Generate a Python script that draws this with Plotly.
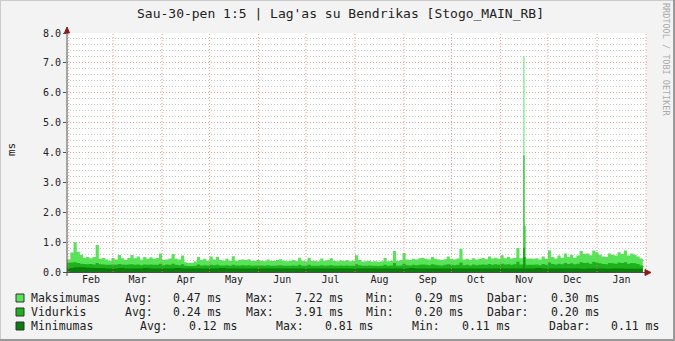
import pandas as pd
import plotly.graph_objects as go

# ---------------- data ----------------
title_text = "Sau-30-pen 1:5 | Lag'as su Bendrikas [Stogo_MAIN_RB]"
y_title = "ms"
watermark = "RRDTOOL / TOBI OETIKER"

start_date = "2019-01-31"
max_step_days = 2
mid_step_days = 2
min_step_days = 4

max_vals = [
    0.42, 0.65, 1.00, 0.68, 0.58, 0.48, 0.50, 0.46, 0.50, 0.90, 0.44, 0.47, 0.42, 0.38, 0.47, 0.42,
    0.57, 0.46, 0.40, 0.47, 0.57, 0.46, 0.52, 0.42, 0.50, 0.44, 0.49, 0.44, 0.47, 0.62, 0.40,
    0.42, 0.45, 0.60, 0.44, 0.42, 0.55, 0.33, 0.30, 0.31, 0.35, 0.50, 0.40, 0.44, 0.38, 0.52,
    0.42, 0.50, 0.40, 0.38, 0.44, 0.38, 0.53, 0.38, 0.40, 0.42, 0.40, 0.43, 0.37, 0.38, 0.40,
    0.38, 0.36, 0.42, 0.38, 0.37, 0.40, 0.43, 0.38, 0.36, 0.38, 0.40, 0.37, 0.48, 0.38, 0.36, 0.48,
    0.37, 0.38, 0.36, 0.45, 0.38, 0.40, 0.46, 0.37, 0.36, 0.39, 0.37, 0.40, 0.36, 0.38, 0.56,
    0.40, 0.35, 0.36, 0.38, 0.35, 0.36, 0.34, 0.36, 0.47, 0.36, 0.38, 0.70, 0.37, 0.40, 0.64,
    0.42, 0.40, 0.44, 0.42, 0.46, 0.47, 0.44, 0.42, 0.50, 0.44, 0.42, 0.40, 0.43, 0.52, 0.44,
    0.42, 0.45, 0.77, 0.42, 0.44, 0.40, 0.46, 0.42, 0.44, 0.47, 0.43, 0.52, 0.45, 0.48, 0.44,
    0.56, 0.46, 0.50, 0.45, 0.48, 0.80, 0.46, 0.48, 0.45, 0.45, 0.44, 0.46, 0.42, 0.52, 0.44,
    0.72, 0.50, 0.45, 0.55, 0.48, 0.62, 0.50, 0.58, 0.48, 0.55, 0.70, 0.60, 0.62, 0.56, 0.72,
    0.66, 0.58, 0.52, 0.50, 0.62, 0.58, 0.55, 0.66, 0.60, 0.72, 0.55, 0.62, 0.58, 0.52, 0.45,
]

mid_vals = [
    0.30, 0.32, 0.33, 0.30, 0.28, 0.27, 0.26, 0.27, 0.25, 0.30, 0.26, 0.25, 0.24, 0.24, 0.25, 0.24,
    0.27, 0.25, 0.24, 0.25, 0.26, 0.24, 0.25, 0.23, 0.25, 0.24, 0.25, 0.24, 0.24, 0.28, 0.23,
    0.25, 0.24, 0.28, 0.24, 0.23, 0.26, 0.21, 0.20, 0.20, 0.21, 0.25, 0.22, 0.23, 0.22, 0.24,
    0.23, 0.24, 0.22, 0.22, 0.23, 0.21, 0.24, 0.22, 0.22, 0.23, 0.22, 0.23, 0.21, 0.22, 0.22,
    0.22, 0.21, 0.23, 0.21, 0.21, 0.22, 0.23, 0.21, 0.21, 0.21, 0.22, 0.21, 0.24, 0.21, 0.21, 0.24,
    0.21, 0.21, 0.21, 0.23, 0.21, 0.22, 0.23, 0.21, 0.21, 0.22, 0.21, 0.22, 0.21, 0.21, 0.26,
    0.23, 0.21, 0.21, 0.22, 0.21, 0.21, 0.20, 0.21, 0.24, 0.21, 0.22, 0.30, 0.21, 0.22, 0.28,
    0.23, 0.22, 0.24, 0.23, 0.24, 0.25, 0.24, 0.23, 0.26, 0.24, 0.23, 0.22, 0.24, 0.26, 0.24,
    0.23, 0.24, 0.32, 0.23, 0.24, 0.22, 0.25, 0.23, 0.24, 0.25, 0.24, 0.27, 0.24, 0.26, 0.24,
    0.28, 0.25, 0.26, 0.24, 0.26, 0.34, 0.25, 0.26, 0.24, 0.24, 0.24, 0.25, 0.23, 0.27, 0.24,
    0.32, 0.27, 0.25, 0.28, 0.26, 0.30, 0.27, 0.29, 0.26, 0.28, 0.33, 0.30, 0.31, 0.28, 0.34,
    0.32, 0.29, 0.27, 0.26, 0.30, 0.29, 0.28, 0.32, 0.30, 0.33, 0.28, 0.30, 0.29, 0.27, 0.22,
]

min_vals = [
    0.13, 0.16, 0.16, 0.14, 0.13, 0.13, 0.12, 0.12, 0.13, 0.12,
    0.12, 0.12, 0.13, 0.12, 0.12, 0.12, 0.12, 0.13, 0.12, 0.12,
    0.12, 0.12, 0.12, 0.12, 0.13, 0.12, 0.12, 0.12, 0.12, 0.12,
    0.12, 0.12, 0.12, 0.12, 0.12, 0.12, 0.12, 0.12, 0.12, 0.12,
    0.12, 0.12, 0.12, 0.12, 0.12, 0.12, 0.12, 0.12, 0.12, 0.12,
    0.12, 0.12, 0.12, 0.12, 0.13, 0.12, 0.12, 0.12, 0.12, 0.12,
    0.12, 0.12, 0.12, 0.12, 0.12, 0.12, 0.12, 0.12, 0.12, 0.12,
    0.12, 0.12, 0.12, 0.12, 0.13, 0.12, 0.12, 0.12, 0.12, 0.12,
    0.12, 0.11, 0.12, 0.12, 0.12, 0.11, 0.12, 0.12, 0.11, 0.11,
    0.11,
]

spike_times = ["2019-11-15 12:00", "2019-11-16 03:00"]
spike_max = [7.22, 1.55]
spike_mid = [3.91, 0.50]
spike_min = [0.81, 0.12]

series_names = ["Maksimumas", "Vidurkis", "Minimumas"]
series_colors = ["#59E359", "#1DB21D", "#0A7D0A"]
stat_avg = ["0.47 ms", "0.24 ms", "0.12 ms"]
stat_max = ["7.22 ms", "3.91 ms", "0.81 ms"]
stat_min = ["0.29 ms", "0.20 ms", "0.11 ms"]
stat_now = ["0.30 ms", "0.20 ms", "0.11 ms"]

x_range = ["2019-01-30 21:00", "2020-02-01 15:00"]
y_range = [0, 8]

# ---------------- layout geometry (pixels) ----------------
W, H = 675, 341
PL, PR, PT, PB = 67, 647, 33, 272
MONO = "DejaVu Sans Mono"


def px(x):
    return (x - PL) / (PR - PL)


def py(y):
    return (PB - y) / (PB - PT)


def build(vals, step, spike_vals):
    idx = pd.date_range(start_date, periods=len(vals), freq=f"{step}D")
    s = pd.Series(vals, index=idx)
    end = idx[-1] + pd.Timedelta(days=step)
    s = pd.concat([s, pd.Series([vals[-1]], index=[end])])
    sp = pd.Series(spike_vals, index=pd.to_datetime(spike_times))
    s = pd.concat([s, sp]).sort_index()
    return s


s_max = build(max_vals, max_step_days, spike_max)
s_mid = build(mid_vals, mid_step_days, spike_mid)
s_min = build(min_vals, min_step_days, spike_min)

fig = go.Figure()
for s, name, col in zip([s_max, s_mid, s_min], series_names, series_colors):
    fig.add_trace(go.Scatter(
        x=s.index, y=s.values, name=name, mode="lines",
        line=dict(width=0, shape="hv", color=col),
        fill="tozeroy", fillcolor=col, hoverinfo="skip", showlegend=False,
    ))

shapes = []
# vertical month grid lines above the data (rrdtool draws grid over areas)
for d in pd.date_range("2019-02-01", "2020-02-01", freq="MS"):
    shapes.append(dict(type="line", xref="x", yref="paper", x0=d, x1=d, y0=0, y1=1,
                       line=dict(color="rgba(235,120,120,0.75)", width=1, dash="1px,2px"),
                       layer="above"))

# outer 3D frame
shapes += [
    dict(type="line", xref="paper", yref="paper", x0=px(0), x1=px(W), y0=py(0.5), y1=py(0.5),
         line=dict(color="#CBCBCB", width=1)),
    dict(type="line", xref="paper", yref="paper", x0=px(0.5), x1=px(0.5), y0=py(0), y1=py(H),
         line=dict(color="#CBCBCB", width=1)),
    dict(type="line", xref="paper", yref="paper", x0=px(0), x1=px(W), y0=py(H - 1), y1=py(H - 1),
         line=dict(color="#999999", width=2)),
    dict(type="line", xref="paper", yref="paper", x0=px(W - 1), x1=px(W - 1), y0=py(0), y1=py(H),
         line=dict(color="#999999", width=2)),
]

# axes lines and arrows
shapes += [
    dict(type="line", xref="paper", yref="paper", x0=px(67), x1=px(67), y0=py(276), y1=py(30),
         line=dict(color="#505050", width=1), layer="above"),
    dict(type="line", xref="paper", yref="paper", x0=px(63), x1=px(647), y0=py(272.5), y1=py(272.5),
         line=dict(color="#505050", width=1), layer="above"),
    dict(type="path", xref="paper", yref="paper",
         path=f"M {px(64.5)} {py(33)} L {px(69.5)} {py(33)} L {px(67)} {py(27)} Z",
         fillcolor="#8B1A1A", line=dict(color="#8B1A1A", width=1), layer="above"),
    dict(type="path", xref="paper", yref="paper",
         path=f"M {px(645)} {py(269.5)} L {px(645)} {py(275.5)} L {px(651)} {py(272.5)} Z",
         fillcolor="#8B1A1A", line=dict(color="#8B1A1A", width=1), layer="above"),
]

annotations = [
    dict(text=title_text, x=px(340), y=py(13), xref="paper", yref="paper", showarrow=False,
         xanchor="center", yanchor="middle", font=dict(family=MONO, size=13, color="#222")),
    dict(text=y_title, x=px(11), y=py(150), xref="paper", yref="paper", showarrow=False,
         xanchor="center", yanchor="middle", textangle=-90,
         font=dict(family=MONO, size=11, color="#222")),
    dict(text=watermark, x=px(666), y=py(60), xref="paper", yref="paper", showarrow=False,
         xanchor="center", yanchor="middle", textangle=90,
         font=dict(family=MONO, size=8.5, color="#AAAAAA")),
]

row_y = [298, 312, 326]
cols_a = [124, 172, 244.5, 294, 365, 414.5, 486.4, 550]
cols_c = [138.6, 187.7, 274.6, 323.7, 411, 460.6, 547.6, 610.4]
for i, name in enumerate(series_names):
    yy = row_y[i]
    shapes.append(dict(type="rect", xref="paper", yref="paper",
                       x0=px(16), x1=px(24), y0=py(yy + 4), y1=py(yy - 4),
                       fillcolor=series_colors[i], line=dict(color="#333333", width=1)))
    cols = cols_a if i < 2 else cols_c
    pieces = [(30, name), (cols[0], "Avg:"), (cols[1], stat_avg[i]), (cols[2], "Max:"),
              (cols[3], stat_max[i]), (cols[4], "Min:"), (cols[5], stat_min[i]),
              (cols[6], "Dabar:"), (cols[7], stat_now[i])]
    for xx, t in pieces:
        annotations.append(dict(text=t, x=px(xx - 1), y=py(yy), xref="paper", yref="paper",
                                showarrow=False, xanchor="left", yanchor="middle",
                                font=dict(family=MONO, size=11.5, color="#222")))

fig.update_layout(
    width=W, height=H,
    margin=dict(l=PL, r=W - PR, t=PT, b=H - PB, pad=0),
    paper_bgcolor="#F3F3F3", plot_bgcolor="#FFFFFF",
    shapes=shapes, annotations=annotations,
    xaxis=dict(type="date", range=x_range, dtick="M1", tick0="2019-01-01",
               ticklabelmode="period", tickformat="%b", showgrid=False, zeroline=False,
               showline=False, ticks="", fixedrange=True,
               tickfont=dict(family=MONO, size=10, color="#222")),
    yaxis=dict(range=y_range, dtick=1, tickformat=".1f", showgrid=True,
               gridcolor="rgba(235,120,120,0.75)", griddash="1px,2px", gridwidth=1,
               zeroline=False, showline=False, ticks="outside", ticklen=3, tickcolor="#505050",
               tickfont=dict(family=MONO, size=10, color="#222"),
               minor=dict(dtick=0.2, showgrid=True, gridcolor="#C8C8C8", griddash="1px,2px",
                          gridwidth=1, ticks="")),
)

fig.write_html("out.html")
